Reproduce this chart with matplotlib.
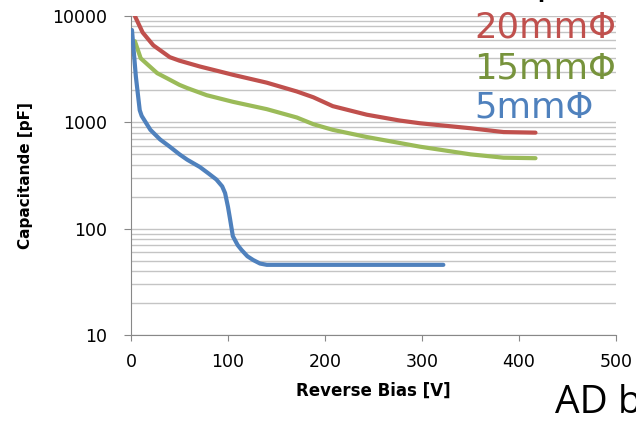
import matplotlib.pyplot as plt
import numpy as np

# datos
bias_20 = [4, 12, 23, 40, 50, 71, 92, 105, 140, 171, 188, 208, 243, 277, 298, 350, 384, 417]
cap_20 = [10000, 7000, 5300, 4100, 3800, 3350, 3000, 2800, 2360, 1950, 1720, 1420,
          1180, 1040, 980, 880, 810, 800]

bias_15 = [4, 10, 27, 37, 50, 58, 78, 105, 140, 171, 188, 208, 243, 298, 350, 384, 417]
cap_15 = [5800, 4000, 2900, 2600, 2250, 2100, 1800, 1560, 1330, 1110, 960, 850,
          728, 590, 500, 465, 460]

bias_5 = [1, 5, 9, 11, 20, 30, 40, 50, 58, 71, 80, 88, 94, 97, 100, 102, 105, 110,
          114, 120, 126, 133, 140, 322]
cap_5 = [7380, 2700, 1300, 1150, 850, 690, 590, 500, 445, 380, 330, 290, 250, 216,
         160, 125, 85, 70, 63, 55, 50.7, 47, 45.7, 45.7]

etiquetas = ['20mmΦ', '15mmΦ', '5mmΦ']
colores = ['#C0504D', '#9BBB59', '#4F81BD']
colores_txt = ['#C0504D', '#77933C', '#4F81BD']

W, H = 636, 423
fig = plt.figure(figsize=(W/100, H/100), dpi=100)
ax = fig.add_axes([131/W, 1-335/H, (616-131)/W, (335-16)/H])

ax.plot(bias_20, cap_20, color=colores[0], lw=3, solid_capstyle='round',
        solid_joinstyle='round', zorder=3)
ax.plot(bias_15, cap_15, color=colores[1], lw=3, solid_capstyle='round',
        solid_joinstyle='round', zorder=3)
ax.plot(bias_5, cap_5, color=colores[2], lw=3, solid_capstyle='round',
        solid_joinstyle='round', zorder=3)

ax.set_yscale('log')
ax.set_ylim(10, 10000)
ax.set_xlim(0, 500)
ax.set_xticks([0, 100, 200, 300, 400, 500])
ax.set_yticks([10, 100, 1000, 10000])
ax.set_yticklabels(['10', '100', '1000', '10000'])
ax.yaxis.set_minor_formatter(plt.NullFormatter())
ax.tick_params(axis='y', which='minor', length=0)
ax.tick_params(axis='y', which='major', length=5, color='#888888',
               labelsize=12.5, pad=12)
ax.tick_params(axis='x', which='major', length=4, color='#888888',
               labelsize=12.5, pad=9)

ax.grid(True, which='both', axis='y', color='#c4c4c4', lw=1)
ax.set_axisbelow(True)
for s in ['top', 'right']:
    ax.spines[s].set_visible(False)
for s in ['left', 'bottom']:
    ax.spines[s].set_color('#888888')

ax.set_xlabel('Reverse Bias [V]', fontsize=12, fontweight='bold', labelpad=8)
ax.set_ylabel('Capacitande [pF]', fontsize=11, fontweight='bold',
              family=['Liberation Sans Narrow', 'DejaVu Sans'])
ax.yaxis.set_label_coords(-0.202, 0.5)

# leyenda como texto
ys = [37, 78, 118]
for t, c, y in zip(etiquetas, colores_txt, ys):
    fig.text(474/W, 1-y/H, t, color=c, fontsize=25.5, va='baseline')

fig.text(555/W, 1-413/H, 'AD b', fontsize=28, family='Open Sans', va='baseline')
fig.text(522/W, 1+6/H, '[pF]', fontsize=28, va='baseline')

fig.savefig('out.png', dpi=100)
